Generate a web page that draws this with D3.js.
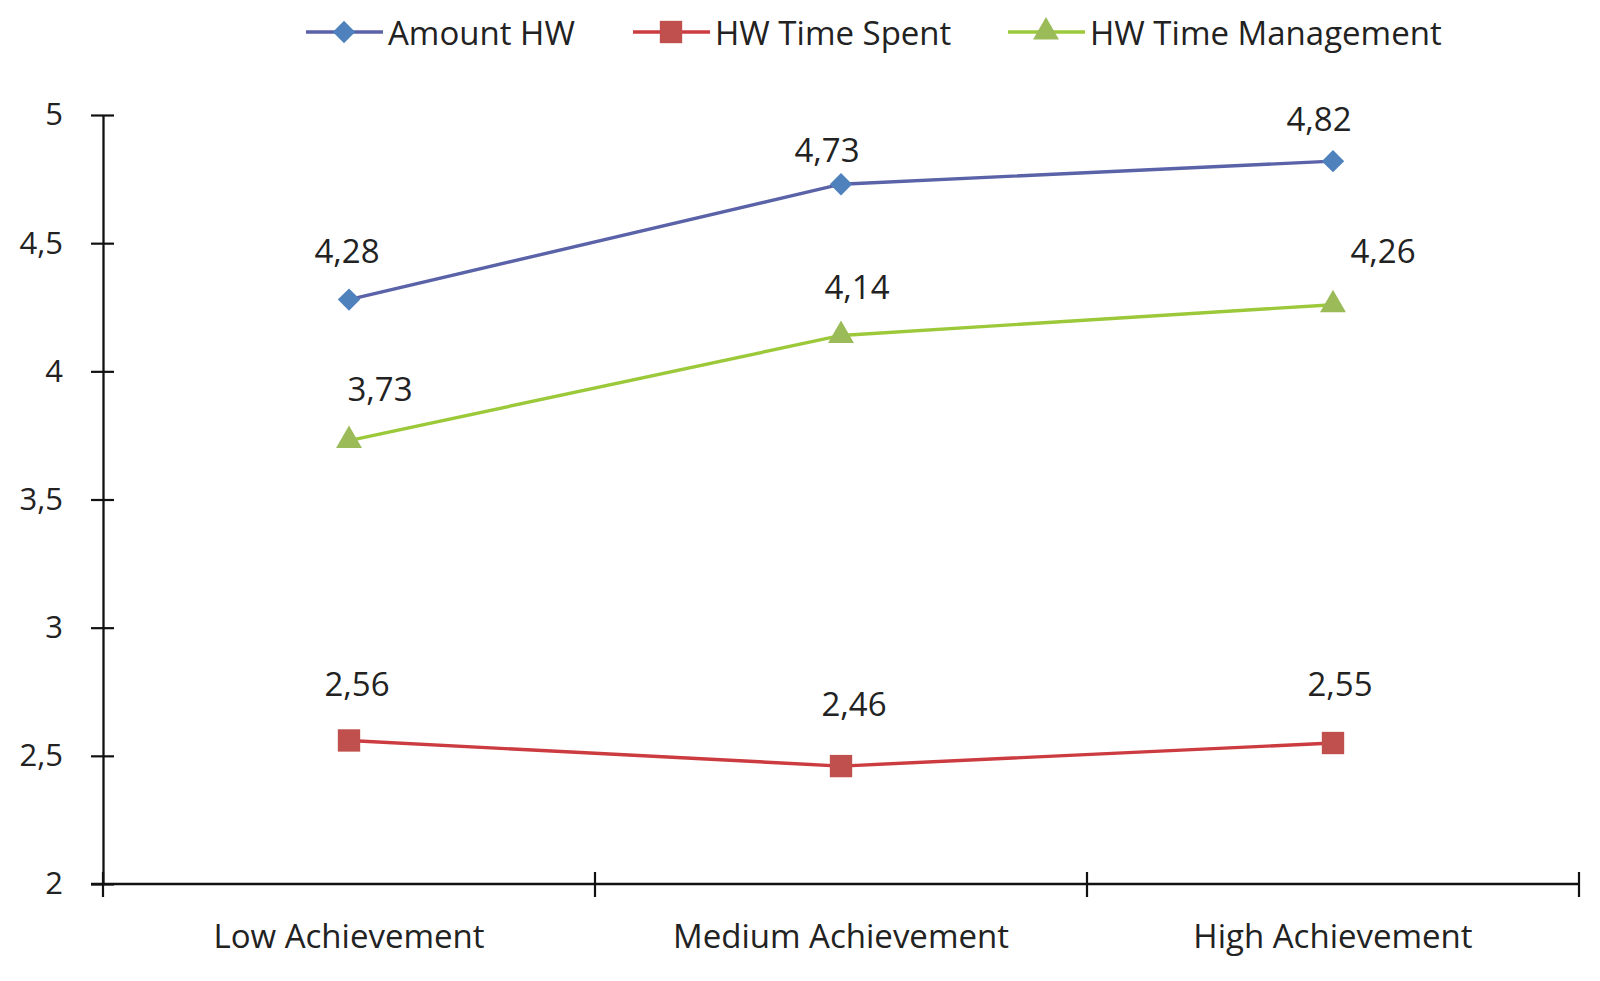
<!DOCTYPE html>
<html>
<head>
<meta charset="utf-8">
<script src="https://cdn.jsdelivr.net/npm/d3@7"></script>
<style>
  html, body { margin: 0; padding: 0; background: #fff; }
  svg { display: block; }
  text { font-family: "Open Sans", sans-serif; fill: #222; }
</style>
</head>
<body>
<svg id="chart" width="1600" height="981"></svg>
<script>
// ---- data ----
const categories = ["Low Achievement", "Medium Achievement", "High Achievement"];
const seriesNames = ["Amount HW", "HW Time Spent", "HW Time Management"];
const amountHW = [4.28, 4.73, 4.82];
const timeSpent = [2.56, 2.46, 2.55];
const timeManagement = [3.73, 4.14, 4.26];
const yTicks = [2, 2.5, 3, 3.5, 4, 4.5, 5];

// square-ish diamond marker
const symbolRhomb = {
  draw(ctx, size) {
    const r = Math.sqrt(size / 2);
    ctx.moveTo(0, -r); ctx.lineTo(r, 0); ctx.lineTo(0, r); ctx.lineTo(-r, 0); ctx.closePath();
  }
};

// ---- styles / layout ----
const styles = [
  { line: "#5a62a8", fill: "#4f81bd", shape: symbolRhomb, size: 250, values: amountHW,
    labelOff: [[-2, -49], [-14, -35], [-14, -43]] },
  { line: "#cc3b3f", fill: "#c0504d", shape: d3.symbolSquare, size: 500, values: timeSpent,
    labelOff: [[8, -57], [13, -63], [7, -60]] },
  { line: "#9cc93a", fill: "#9bbb59", shape: d3.symbolTriangle, size: 290, values: timeManagement,
    labelOff: [[31, -52], [16, -49], [50, -54]] }
];

const svg = d3.select("#chart");
const mLeft = 103, mRight = 1579, mTop = 115, mBottom = 884;

const x = d3.scaleBand().domain(categories).range([mLeft, mRight]).padding(0);
const y = d3.scaleLinear().domain([2, 5]).range([mBottom, mTop]);
const fmt = v => String(v).replace(".", ",");

// y axis
const yAxis = svg.append("g").attr("transform", `translate(${mLeft},0)`)
  .call(d3.axisLeft(y).tickValues(yTicks).tickSizeInner(12).tickSizeOuter(0).tickPadding(28)
    .tickFormat(fmt));
yAxis.select(".domain").attr("stroke", "#111").attr("stroke-width", 2.3);
yAxis.selectAll(".tick line").attr("x1", 11).attr("stroke", "#111").attr("stroke-width", 2.2);
yAxis.selectAll(".tick text").attr("font-size", 31).style("font-family", "Open Sans").attr("fill", "#222");

// x axis (ticks at band boundaries)
const xAxisG = svg.append("g").attr("transform", `translate(0,${mBottom})`);
xAxisG.append("line").attr("x1", mLeft - 12).attr("x2", mRight).attr("y1", 0).attr("y2", 0)
  .attr("stroke", "#111").attr("stroke-width", 2.3);
const boundaries = categories.map(c => x(c)).concat([x(categories[categories.length - 1]) + x.bandwidth()]);
xAxisG.selectAll("line.tk").data(boundaries).join("line").attr("class", "tk")
  .attr("x1", d => d).attr("x2", d => d).attr("y1", -12).attr("y2", 13)
  .attr("stroke", "#111").attr("stroke-width", 2.2);
xAxisG.selectAll("text.cat").data(categories).join("text").attr("class", "cat")
  .attr("x", d => x(d) + x.bandwidth() / 2).attr("y", 51)
  .attr("text-anchor", "middle").attr("dominant-baseline", "central")
  .attr("font-size", 33).text(d => d);

// lines
const cx = c => x(c) + x.bandwidth() / 2;
const line = d3.line().x((d, i) => cx(categories[i])).y(d => y(d));

styles.forEach(s => {
  svg.append("path").datum(s.values).attr("d", line)
    .attr("fill", "none").attr("stroke", s.line).attr("stroke-width", 3.4);
});
styles.forEach(s => {
  svg.selectAll(null).data(s.values).join("path")
    .attr("transform", (d, i) => `translate(${cx(categories[i])},${y(d)})`)
    .attr("d", d3.symbol().type(s.shape).size(s.size))
    .attr("fill", s.fill);
  svg.selectAll(null).data(s.values).join("text")
    .attr("x", (d, i) => cx(categories[i]) + s.labelOff[i][0])
    .attr("y", (d, i) => y(d) + s.labelOff[i][1])
    .attr("text-anchor", "middle").attr("dominant-baseline", "central")
    .attr("font-size", 33).text(d => fmt(d));
});

// legend
const legendX = [306, 633, 1008];
const lg = svg.append("g");
styles.forEach((s, i) => {
  const g = lg.append("g").attr("transform", `translate(${legendX[i]},32)`);
  g.append("line").attr("x1", 0).attr("x2", 77).attr("stroke", s.line).attr("stroke-width", 3.4);
  g.append("path").attr("transform", "translate(38,0)")
    .attr("d", d3.symbol().type(s.shape).size(s.size)).attr("fill", s.fill);
  g.append("text").attr("x", 82).attr("y", 0).attr("dominant-baseline", "central")
    .attr("font-size", 33).text(seriesNames[i]);
});
</script>
</body>
</html>
